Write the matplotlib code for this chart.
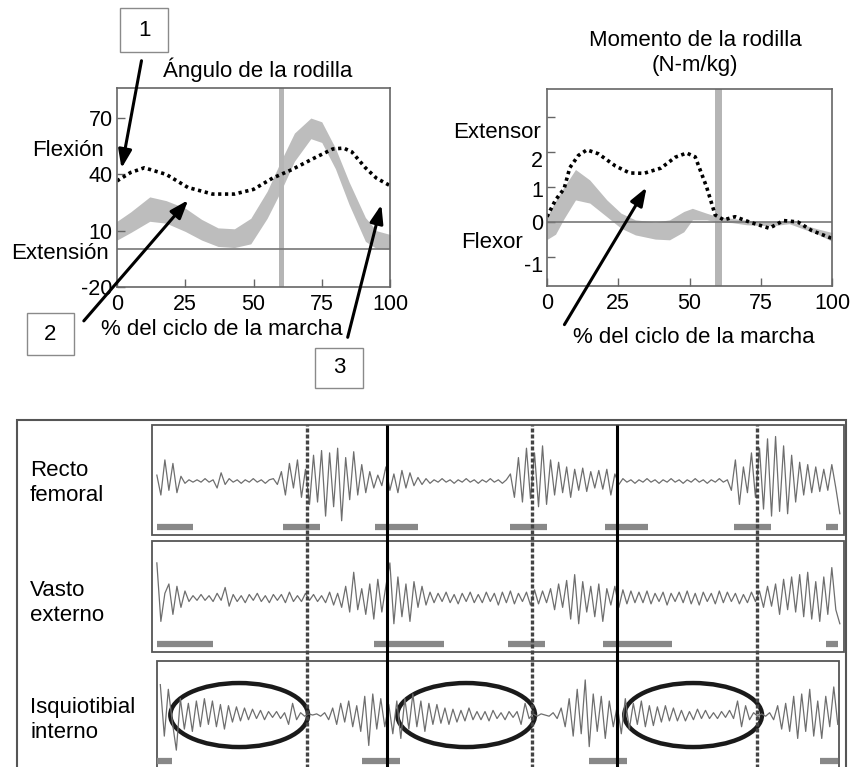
import numpy as np
import matplotlib
matplotlib.use("Agg")
import matplotlib.pyplot as plt
import matplotlib.transforms as mtransforms
from matplotlib.patches import Rectangle, Ellipse, FancyArrowPatch

plt.rcParams['font.family'] = ['Liberation Sans', 'DejaVu Sans']

# ---- knee angle (deg) vs % gait cycle ----
ang_band_x = [0, 5, 12, 18, 25, 31, 37, 43, 49, 55, 60, 65, 71, 75, 80, 85, 91, 95, 100]
ang_band_hi = [15, 20, 28, 26, 22, 16, 11.5, 11, 16.6, 31, 47, 62, 70, 68, 54, 36, 17, 10, 8]
ang_band_lo = [5, 9, 15, 14, 9.6, 5, 1.6, 1, 3, 16.6, 31, 47, 59, 57, 43, 24, 4.3, 0.5, 0]
ang_pat_x = [0, 5, 10, 18, 26, 35, 43, 50, 57, 64, 72, 79, 83, 86, 91, 95, 100]
ang_pat_y = [36.5, 41, 43.5, 40, 33, 29.5, 29.5, 32, 38, 42.5, 48.5, 53.5, 54, 52, 43.5, 38, 34]

# ---- knee moment (N-m/kg) ----
mom_band_x = [0, 3, 6, 10, 15, 21, 26, 31, 38, 43, 48, 51, 56, 60, 65, 70, 75, 80, 85, 90, 95, 100]
mom_band_hi = [0.15, 0.6, 1.0, 1.5, 1.2, 0.63, 0.25, 0.06, 0.0, 0.06, 0.3, 0.39, 0.25, 0.15,
               0.1, 0.05, 0.02, 0.0, 0.02, -0.08, -0.2, -0.3]
mom_band_lo = [-0.5, -0.35, 0.1, 0.63, 0.54, 0.15, -0.18, -0.37, -0.49, -0.51, -0.28, 0.06, 0.06, 0.0,
               -0.02, -0.08, -0.1, -0.1, -0.05, -0.2, -0.35, -0.55]
mom_pat_x = [0, 3, 6, 8, 11, 14, 18, 24, 29, 34, 40, 45, 49, 52, 56, 59, 62, 66, 71, 78, 83, 88, 93, 100]
mom_pat_y = [0.15, 0.63, 0.95, 1.55, 1.9, 2.06, 1.95, 1.6, 1.4, 1.39, 1.54, 1.85, 1.97, 1.86, 1.0, 0.2,
             0.06, 0.15, 0.0, -0.18, 0.04, 0.0, -0.25, -0.47]

# ---- EMG (hundredths of a row height) ----
emg_recto = [5, -12, 18, -8, 15, -10, 4, -2, 1, -1,
             1, -1, 2, -1, 1, -6, 7, -3, 2, -1,
             1, -2, 1, -1, 2, -1, 1, -2, 1, 2,
             -3, 8, -12, 15, -6, 18, -14, 10, -20, 22,
             -18, 26, -30, 24, -22, 28, -34, 20, -16, 25,
             -12, 14, -10, 8, -6, 5, -4, 12, -8, 6,
             -10, 9, -6, 7, -4, 3, -3, 2, -2, 1,
             -1, 2, -1, 1, -2, 1, -1, 2, -1, 1,
             -2, 1, -1, 2, -1, 1, -2, 1, 6, -14,
             20, -18, 28, -15, 24, -22, 30, -20, 18, -12,
             16, -10, 12, -14, 10, -8, 11, -9, 8, -6,
             9, -7, 10, -12, 6, -3, 2, -1, 1, -2,
             1, -1, 2, -1, 1, -2, 1, -1, 2, -1,
             1, -2, 1, -1, 2, -1, 1, -2, 1, -1,
             2, -1, 1, -8, 18, -20, 12, -10, 24, -14,
             28, -24, 36, -30, 38, -26, 30, -28, 22, -18,
             16, -12, 14, -10, 12, -9, 10, -8, 14, -6, -28]
emg_vasto = [30, -20, 4, 12, -14, 10, -8, 6, -3, 2,
             -2, 3, -2, 2, -3, 4, -2, 9, -7, 3,
             -3, 2, -4, 3, -2, 4, -3, 2, -4, 3,
             -2, 3, -4, 5, -3, 2, -3, 4, -2, 3,
             -3, 2, -4, 5, -6, 4, -8, 10, -12, 22,
             -10, 8, -14, 12, -18, 16, -12, 10, 30, -22,
             18, -16, 12, -20, 14, -8, 10, -6, 5, -4,
             4, -3, 5, -4, 3, -5, 4, -3, 5, -4,
             3, -4, 5, -3, 4, -6, 5, -4, 6, -5,
             4, -3, 5, -6, 7, -5, 6, -4, 8, -10,
             12, -8, 15, -18, 20, -22, 14, -12, 10, -16,
             12, -20, 8, -6, 10, -8, 7, -5, 6, -4,
             5, -4, 6, -5, 4, -3, 5, -6, 4, -3,
             5, -4, 6, -5, 4, -6, 5, -3, 4, -5,
             6, -4, 5, -3, 4, -5, 3, -4, 5, -3,
             6, -8, 10, -7, 12, -14, 16, -10, 18, -12,
             20, -16, 22, -18, 14, -20, 18, -14, 26, -10, -22]
emg_isquio = [26, -18, 22, -6, -30, 14, -12, 10, -14, 12,
              -10, 14, -8, 12, -10, 9, -12, 8, -6, 7,
              -5, 6, -4, 5, -3, 4, -4, 3, -2, 3,
              -3, 2, -8, 10, -4, 2, -1, 1, 0, 1,
              -1, 2, -4, 6, -8, 10, -6, 12, -10, 8,
              -14, 16, -26, 18, -12, 14, -10, 9, -16, 12,
              -20, 14, -12, 18, -10, 12, -14, 10, -8, 9,
              -7, 6, -8, 5, -6, 4, -5, 6, -4, 3,
              -4, 3, -5, 4, -3, 2, -4, 3, -2, 3,
              -8, 10, -3, 1, -1, 1, 0, -1, 2, -3,
              6, -10, 14, -18, 22, -16, 30, -27, 18, -14,
              16, -20, 12, -10, 8, -16, 14, -12, 10, -8,
              12, -10, 8, -9, 7, -6, 8, -5, 6, -5,
              4, -5, 3, -4, 5, -3, 4, -3, 2, -3,
              3, -2, 4, -3, 12, -10, 8, -4, 2, -1,
              1, -1, 2, -4, 8, -12, 10, -14, 16, -20,
              18, -14, 22, -18, 12, -20, 16, -10, 24, -8]

muscles = ["Recto\nfemoral", "Vasto\nexterno", "Isquiotibial\ninterno"]
emg_traces = [emg_recto, emg_vasto, emg_isquio]
emg_span = [(0.7, 99.4), (0.7, 99.4), (1.2, 99.1)]
heel_strike = [22.4, 54.9, 87.4]   # dashed lines
toe_off = [34.0, 67.2]             # solid lines
# normal activity bars (start, end) per muscle
bars_recto = [(0.7, 5.9), (18.9, 24.3), (32.2, 38.4), (51.7, 57.1), (65.5, 71.7), (84.1, 89.5), (97.4, 99.1)]
bars_vasto = [(0.7, 8.8), (32.1, 42.2), (51.4, 56.8), (65.2, 75.1), (97.4, 99.1)]
bars_isquio = [(0.7, 2.9), (30.3, 35.8), (63.2, 68.6), (96.5, 99.1)]
ellipse_x = [12.6, 45.4, 78.2]

W, H = 851, 767
fig = plt.figure(figsize=(W / 100, H / 100), dpi=100)


def fx(px):
    return px / W


def fy(py):
    return 1 - py / H


band_col = "#bdbdbd"
frame_col = "#666666"
fs = 16
tfs = 15.5

# ---------------- knee angle ----------------
ax1 = fig.add_axes([fx(117), fy(287), fx(390) - fx(117), fy(88) - fy(287)])
ax1.fill_between(ang_band_x, ang_band_lo, ang_band_hi, color=band_col, lw=0)
ax1.axvspan(59.2, 61.2, color="#b5b5b5", lw=0)
ax1.axhline(0, color="#777777", lw=1.2)
ax1.plot(ang_pat_x, ang_pat_y, color="black", lw=2.6, ls=(0, (0.9, 1.0)))
ax1.set_xlim(0, 100)
ax1.set_ylim(-20, 86)
ax1.set_yticks([70, 40, 10, -20])
ax1.set_xticks([0, 25, 50, 75, 100])
ax1.set_yticklabels(["70", "40", "10", "-20"])

# ---------------- knee moment ----------------
ax2 = fig.add_axes([fx(547), fy(286), fx(832) - fx(547), fy(89) - fy(286)])
ax2.fill_between(mom_band_x, mom_band_lo, mom_band_hi, color=band_col, lw=0)
ax2.axvspan(59.0, 61.4, color="#b5b5b5", lw=0)
ax2.axhline(0, color="#777777", lw=1.2)
ax2.plot(mom_pat_x, mom_pat_y, color="black", lw=2.6, ls=(0, (0.9, 1.0)))
ax2.set_xlim(0, 100)
ax2.set_ylim(-1.83, 3.8)
ax2.set_yticks([3, 2, 1, 0, -1])
ax2.set_yticklabels(["", "2", "1", "0", "-1"])
ax2.set_xticks([0, 25, 50, 75, 100])

for ax in (ax1, ax2):
    for s in ax.spines.values():
        s.set_color(frame_col)
        s.set_linewidth(1.2)
    ax.tick_params(direction="in", length=6, width=1, color=frame_col,
                   labelsize=tfs, pad=5)
    ax.tick_params(axis="y", pad=3)

# in the reference the "2" and "-1" labels sit a little below their ticks
for lab, dy in zip(ax2.get_yticklabels(), [0, -7, -2, 0, -7]):
    lab.set_transform(lab.get_transform() +
                      mtransforms.ScaledTranslation(0, dy / 100, fig.dpi_scale_trans))

# text for top charts
fig.text(fx(258), fy(70), "Ángulo de la rodilla", ha="center", va="center", fontsize=fs)
fig.text(fx(68), fy(150), "Flexión", ha="center", va="center", fontsize=fs)
fig.text(fx(60), fy(253), "Extensión", ha="center", va="center", fontsize=fs)
fig.text(fx(222), fy(330), "% del ciclo de la marcha", ha="center", va="center", fontsize=fs)
fig.text(fx(695), fy(40), "Momento de la rodilla", ha="center", va="center", fontsize=fs)
fig.text(fx(695), fy(66), "(N-m/kg)", ha="center", va="center", fontsize=fs)
fig.text(fx(497), fy(133), "Extensor", ha="center", va="center", fontsize=fs)
fig.text(fx(492), fy(243), "Flexor", ha="center", va="center", fontsize=fs)
fig.text(fx(694), fy(337), "% del ciclo de la marcha", ha="center", va="center", fontsize=fs)

# numbered boxes
for num, (x0, y0, x1, y1) in zip(["1", "2", "3"],
                                  [(120, 8, 168, 52), (27, 313, 74, 355), (315, 348, 363, 388)]):
    fig.patches.append(Rectangle((fx(x0), fy(y1)), fx(x1) - fx(x0), fy(y0) - fy(y1),
                                 transform=fig.transFigure, fill=True, fc="white",
                                 ec="#8a8a8a", lw=1.0))
    fig.text(fx((x0 + x1) / 2), fy((y0 + y1) / 2), num, ha="center", va="center", fontsize=fs)

arrows = [((142, 58), (121, 171)), ((82, 323), (190, 198)),
          ((347, 340), (382, 202)), ((563, 327), (648, 185))]
for (sx, sy), (ex, ey) in arrows:
    fig.add_artist(FancyArrowPatch(
        (fx(sx), fy(sy)), (fx(ex), fy(ey)), transform=fig.transFigure,
        arrowstyle="-|>,head_length=11,head_width=4", color="black", lw=2.2,
        mutation_scale=1))

# ---------------- EMG ----------------
fig.patches.append(Rectangle((fx(17), -0.01), fx(846) - fx(17), fy(420) + 0.01,
                             transform=fig.transFigure, fill=False, ec="#555555", lw=1.5))
ax3 = fig.add_axes([fx(152), 0, fx(844) - fx(152), fy(420)])
ax3.set_xlim(0, 100)
ax3.set_ylim(-0.444, 2.521)
ax3.axis("off")

row_y = [2, 1, 0]
row_boxes = [(0, 100, 1.538, 2.479), (0, 100, 0.538, 1.487), (0.7, 99.3, -0.47, 0.462)]
all_bars = [bars_recto, bars_vasto, bars_isquio]
label_y = [483, 603, 720]
for i in range(3):
    xa, xb, ya, yb = row_boxes[i]
    ax3.add_patch(Rectangle((xa, ya), xb - xa, yb - ya, fill=False, ec="#555555", lw=1.3,
                            clip_on=False))
    vals = np.array(emg_traces[i]) / 100.0
    xs = np.linspace(emg_span[i][0], emg_span[i][1], len(vals))
    ax3.plot(xs, row_y[i] + vals, color="#6e6e6e", lw=0.9)
    for a, b in all_bars[i]:
        ax3.plot([a, b], [row_y[i] - 0.39, row_y[i] - 0.39], color="#888888", lw=4.5,
                 solid_capstyle="butt")
    fig.text(fx(30), fy(label_y[i]), muscles[i], ha="left", va="center", fontsize=fs,
             linespacing=1.3)

ax3.vlines(heel_strike, -0.45, 2.479, color="#444444", lw=2.4, linestyles=[(0, (1.2, 0.6))])
ax3.vlines(toe_off, -0.45, 2.479, color="black", lw=2.2)

for cx in ellipse_x:
    ax3.add_patch(Ellipse((cx, 0), 19.9, 0.547, fill=False, ec="#1a1a1a", lw=3.2))

fig.savefig("out.png", dpi=100)
